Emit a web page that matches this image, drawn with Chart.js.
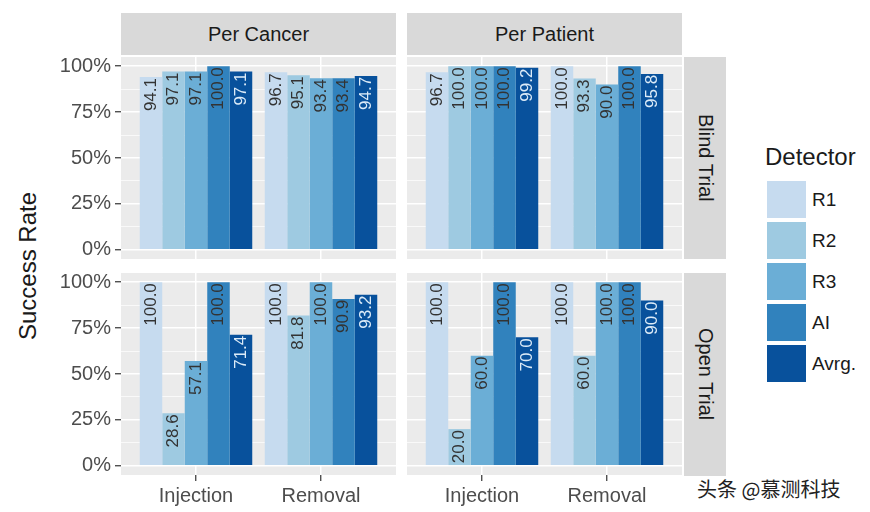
<!DOCTYPE html>
<html>
<head>
<meta charset="utf-8">
<script src="https://cdn.jsdelivr.net/npm/chart.js@4/dist/chart.umd.min.js"></script>
<style>
  body { margin:0; width:870px; height:512px; background:#fff; position:relative; overflow:hidden;
         font-family:"Liberation Sans", Arial, sans-serif; }
  .strip { position:absolute; background:#d9d9d9; color:#1a1a1a; font-size:20px;
           display:flex; align-items:center; justify-content:center; }
  .vstrip { writing-mode:vertical-rl; }
  canvas { position:absolute; }
  .key { position:absolute; left:767px; width:39px; height:37px; }
  .klab { position:absolute; left:812px; font-size:19px; color:#1a1a1a; line-height:37px; }
</style>
</head>
<body>
<div class="strip" style="left:121px;top:13px;width:275px;height:42px">Per Cancer</div>
<div class="strip" style="left:407px;top:13px;width:275px;height:42px">Per Patient</div>
<div class="strip vstrip" style="left:684px;top:57px;width:42px;height:202px">Blind Trial</div>
<div class="strip vstrip" style="left:684px;top:273px;width:42px;height:203px">Open Trial</div>

<div style="position:absolute;left:-72px;top:252px;width:200px;text-align:center;font-size:24px;color:#1a1a1a;transform:rotate(-90deg)">Success Rate</div>

<div id="legend"></div>
<div style="position:absolute;left:697px;top:474px;font-size:20px;font-family:'Noto Sans CJK SC',sans-serif;color:#222;text-shadow:0 0 2px #fff,1px 1px 1px #fff">头条 @慕测科技</div>

<canvas id="tl"></canvas>
<canvas id="tr"></canvas>
<canvas id="bl"></canvas>
<canvas id="br"></canvas>

<script>
// data
const groups = ["Injection", "Removal"];
const detectors = ["R1", "R2", "R3", "AI", "Avrg."];
const yTicks = [0, 25, 50, 75, 100];
// each row: [Injection, Removal] for R1, R2, R3, AI, Avrg.
const blindPerCancer  = [[94.1, 96.7], [97.1, 95.1], [97.1, 93.4], [100.0, 93.4], [97.1, 94.7]];
const blindPerPatient = [[96.7, 100.0], [100.0, 93.3], [100.0, 90.0], [100.0, 100.0], [99.2, 95.8]];
const openPerCancer   = [[100.0, 100.0], [28.6, 81.8], [57.1, 100.0], [100.0, 90.9], [71.4, 93.2]];
const openPerPatient  = [[100.0, 100.0], [20.0, 60.0], [60.0, 100.0], [100.0, 100.0], [70.0, 90.0]];

const barColors = ["#c6dbef", "#9ecae1", "#6baed6", "#3182bd", "#08519c"];
const FONT = "'Liberation Sans', Arial, sans-serif";

// legend
const leg = document.getElementById("legend");
leg.innerHTML = '<div style="position:absolute;left:765px;top:143px;font-size:24px;color:#1a1a1a">Detector</div>';
detectors.forEach((d, i) => {
  const top = 181 + i * 41;
  leg.innerHTML += `<div class="key" style="top:${top}px;background:${barColors[i]}"></div>` +
                   `<div class="klab" style="top:${top}px">${d}</div>`;
});

const panelBg = {
  id: "panelBg",
  beforeDraw(chart) {
    const a = chart.chartArea, ctx = chart.ctx;
    ctx.save();
    ctx.fillStyle = "#ebebeb";
    ctx.fillRect(a.left, a.top, a.right - a.left, a.bottom - a.top);
    ctx.restore();
  }
};

const barLabels = {
  id: "barLabels",
  afterDatasetsDraw(chart) {
    const ctx = chart.ctx;
    chart.data.datasets.forEach((ds, i) => {
      chart.getDatasetMeta(i).data.forEach((bar, j) => {
        ctx.save();
        ctx.translate(bar.x, bar.y + 1);
        ctx.rotate(-Math.PI / 2);
        ctx.textAlign = "right";
        ctx.textBaseline = "middle";
        ctx.fillStyle = i === 4 ? "#dcebf8" : "#333333";
        ctx.font = "17px " + FONT;
        ctx.fillText(ds.data[j].y.toFixed(1), 0, 0);
        ctx.restore();
      });
    });
  }
};

function makePanel(id, values, left, top, w, h, showY, showX) {
  const cv = document.getElementById(id);
  cv.width = w; cv.height = h;
  cv.style.left = left + "px"; cv.style.top = top + "px";
  const yW = showY ? 121 : 0;
  const xH = showX ? 37 : 0;
  new Chart(cv, {
    type: "bar",
    data: {
      datasets: detectors.map((d, i) => ({
        label: d,
        data: values[i].map((v, j) => ({ x: j + 1, y: v })),
        backgroundColor: barColors[i],
        borderWidth: 0,
        categoryPercentage: 0.9,
        barPercentage: 1
      }))
    },
    options: {
      responsive: false,
      animation: false,
      devicePixelRatio: 1,
      layout: { padding: { top: 12, bottom: showX ? 0 : 12, left: 0, right: 0 } },
      plugins: { legend: { display: false }, tooltip: { enabled: false } },
      scales: {
        x: {
          type: "linear", min: 0.4, max: 2.6, offset: false,
          afterBuildTicks: s => { s.ticks = groups.map((g, i) => ({ value: i + 1 })); },
          afterFit: s => { s.height = xH; s.paddingLeft = 0; s.paddingRight = 0; },
          ticks: { display: showX, callback: v => groups[v - 1], color: "#4d4d4d",
                   font: { size: 20, family: FONT }, padding: 3, autoSkip: false, maxRotation: 0 },
          grid: { offset: false, color: "#ffffff", lineWidth: 1.5, drawTicks: showX, tickLength: 6,
                  tickColor: "#333333", tickWidth: 1.2 },
          border: { display: false }
        },
        y: {
          min: -5, max: 105,
          afterBuildTicks: s => {
            const t = [];
            yTicks.forEach((v, i) => { t.push({ value: v }); if (i < yTicks.length - 1) t.push({ value: (v + yTicks[i + 1]) / 2 }); });
            s.ticks = t;
          },
          afterFit: s => { s.width = yW; s.paddingTop = 0; s.paddingBottom = 0; },
          ticks: { display: showY, autoSkip: false, color: "#4d4d4d", font: { size: 20, family: FONT }, padding: 4,
                   callback: v => yTicks.includes(v) ? v + "%" : "" },
          grid: {
            color: "#ffffff",
            lineWidth: c => yTicks.includes(c.tick.value) ? 1.5 : 0.7,
            drawTicks: showY, tickLength: 6, tickWidth: 1.2,
            tickColor: c => yTicks.includes(c.tick.value) ? "#333333" : "rgba(0,0,0,0)"
          },
          border: { display: false }
        }
      }
    },
    plugins: [panelBg, barLabels]
  });
}

makePanel("tl", blindPerCancer, 0, 45, 396, 226, true, false);
makePanel("tr", blindPerPatient, 407, 45, 275, 226, false, false);
makePanel("bl", openPerCancer, 0, 261, 396, 251, true, true);
makePanel("br", openPerPatient, 407, 261, 275, 251, false, true);
</script>
</body>
</html>
